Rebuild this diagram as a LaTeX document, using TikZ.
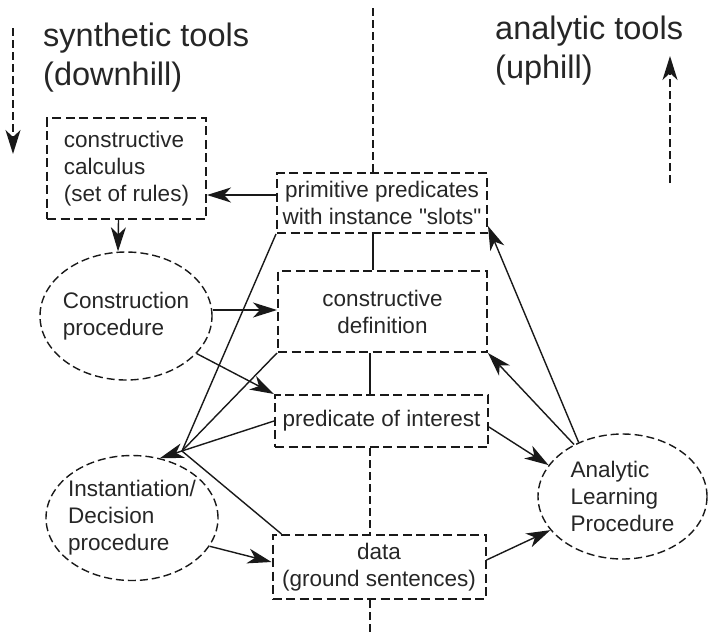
\documentclass[tikz,border=0pt]{standalone}
\usepackage{fontspec}
\setmainfont{Liberation Sans}
\usetikzlibrary{shapes.geometric,arrows.meta,calc}
\tikzstyle{box}=[draw, rectangle, line width=2pt, dash pattern=on 9pt off 4.5pt, inner sep=0pt, text=black!85, font=\fontsize{22.5}{27}\selectfont, align=center]
\tikzstyle{proc}=[draw, ellipse, line width=1.4pt, dash pattern=on 8pt off 4pt, inner sep=0pt, inner xsep=-10pt, text=black!85, font=\fontsize{22.5}{27}\selectfont, align=left]
\tikzstyle{head}=[inner sep=0pt, text=black!85, font=\fontsize{32.5}{39}\selectfont, align=left]
\tikzstyle{link}=[draw, line width=1.4pt, -{Stealth[length=24pt,width=15pt,inset=7pt]}]
\tikzstyle{wire}=[draw, line width=1.4pt]
\tikzstyle{axis}=[draw, line width=1.6pt, dash pattern=on 8pt off 4pt]
\tikzstyle{hint}=[draw, line width=1.6pt, dash pattern=on 8pt off 4pt, -{Stealth[length=24pt,width=15pt,inset=7pt]}]

\begin{document}
\begin{tikzpicture}[x=1pt, y=-1pt, black!90]
\useasboundingbox (0,0) rectangle (708,635);

\node [head, anchor=base west] (synth) at (43,85) {synthetic tools\\(downhill)};
\node [head, anchor=base west] (anal-t) at (495,78) {analytic tools\\(uphill)};

\node [box, minimum width=159pt, minimum height=101pt, align=left] (calc) at (126.5,168.5) {constructive\\calculus\\(set of rules)};
\node [box, minimum width=210pt, minimum height=60pt] (prim) at (382,203) {primitive predicates\\with instance \textquotedbl slots\textquotedbl};
\node [box, minimum width=209pt, minimum height=81pt] (defn) at (382.5,311.5) {constructive\\definition};
\node [box, minimum width=213pt, minimum height=52pt] (pred) at (381.5,421) {predicate of interest};
\node [box, minimum width=213pt, minimum height=64pt] (data) at (379,567) {data\\(ground sentences)};

\node [proc, minimum width=172pt, minimum height=128pt] (cons) at (126,316) {Construction\\procedure};
\node [proc, minimum width=172pt, minimum height=125pt] (inst) at (132,518) {Instantiation/\\Decision\\procedure};
\node [proc, minimum width=169pt, minimum height=125pt] (learn) at (622.5,496.5) {Analytic\\Learning\\Procedure};

\coordinate (dn-a) at (13,28);
\coordinate (dn-b) at (13,154);
\coordinate (up-a) at (670,183);
\coordinate (up-b) at (670,56);
\coordinate (ax-top) at (373,8);
\coordinate (ax-bot) at (370,635);
\coordinate (hub) at (182,451);

\draw [hint] (dn-a) -- (dn-b);
\draw [hint] (up-a) -- (up-b);

\draw [axis] (ax-top) -- (ax-top |- prim.north);
\draw [axis] (ax-bot |- pred.south) -- (ax-bot |- data.north);
\draw [axis] (ax-bot |- data.south) -- (ax-bot);
\draw [wire] (ax-top |- prim.south) -- (ax-top |- defn.north);
\draw [wire] (ax-bot |- defn.south) -- (ax-bot |- pred.north);

\draw [link] ([yshift=8pt]prim.west) -- ([yshift=8pt]prim.west -| calc.east);
\draw [link] ([xshift=-8pt]calc.south) -- ([xshift=-8pt]cons.north);
\draw [link] ([yshift=6pt]cons.east) -- ([yshift=6pt]cons.east -| defn.west);
\draw [link] (cons.-28) -- (pred.north west);

\draw [wire] (prim.south west) -- (hub);
\draw [wire] (defn.south west) -- (hub);
\draw [wire] ([xshift=10pt]data.north west) -- (hub);
\draw [link] (pred.west) -- (inst.65);
\draw [link] (inst.-20) -- ([yshift=5pt]data.west);

\draw [link] ([yshift=-6pt]pred.east) -- (learn.157);
\draw [link] ([yshift=7pt]data.east) -- (learn.205);
\draw [link] (learn.133) -- (defn.south east);
\draw [link] (learn.129) -- ([yshift=8pt]prim.south east);

\end{tikzpicture}
\end{document}
